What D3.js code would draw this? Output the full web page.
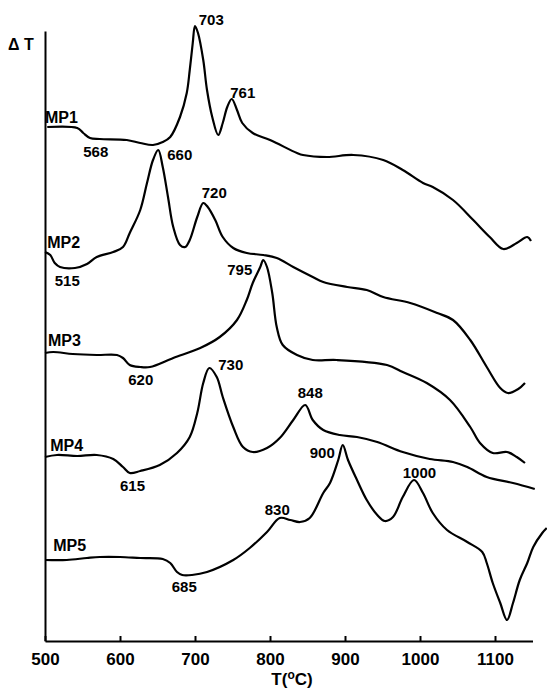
<!DOCTYPE html>
<html>
<head>
<meta charset="utf-8">
<script src="https://cdn.jsdelivr.net/npm/d3@7"></script>
<style>
  body { margin: 0; background: #fff; }
  svg { display: block; }
  .trace { fill: none; stroke: #000; stroke-width: 2.2; stroke-linejoin: round; }
  .axis path, .axis line { stroke: #000; stroke-width: 2; }
  .axis text { font-family: "Liberation Sans", Arial, sans-serif; font-weight: bold; font-size: 17px; fill: #000; }
  .lbl { font-family: "Liberation Sans", Arial, sans-serif; font-weight: bold; fill: #000; }
</style>
</head>
<body>
<div id="chart"></div>
<script>
const width = 547,
  height = 688,
  margin = { top: 31, bottom: 47, left: 45, right: 14.5 };

// DTA traces, [T (°C), ΔT (arb. units, stacked)]
const mp1 = [[503,514],[543,513],[551,508],[560,503],[573,502],[609,501],[627,498],[644,496],[657,499],[667,504],[680,524],[689,548],[693,571],[697,598],[700,615],[704,608],[711,581],[716,551],[723,524],[731,506],[737,518],[743,534],[749,542],[756,531],[763,518],[777,508],[800,501],[836,488],[844,486],[876,484],[911,486],[951,481],[977,471],[1004,458],[1017,454],[1044,441],[1071,421],[1093,404],[1111,392],[1129,398],[1143,404],[1148,400]];
const mp2 = [[500,389],[507,386],[513,378],[520,374],[540,373],[556,377],[569,384],[591,389],[604,394],[613,408],[627,431],[636,458],[644,481],[651,491],[657,474],[664,444],[671,414],[680,396],[687,394],[693,401],[703,424],[711,438],[717,434],[727,421],[737,404],[751,393],[769,388],[791,386],[809,383],[831,374],[857,364],[871,359],[903,354],[929,351],[951,344],[987,338],[1023,328],[1044,321],[1067,301],[1089,274],[1107,253],[1117,248],[1131,252],[1140,258]];
const mp3 = [[500,288],[511,289],[537,287],[569,286],[596,286],[604,283],[613,276],[627,274],[640,274],[671,283],[707,293],[733,304],[756,321],[769,341],[777,358],[787,374],[791,381],[796,374],[803,348],[809,314],[817,296],[836,286],[857,281],[889,281],[956,276],[977,269],[1009,258],[1040,241],[1067,214],[1080,198],[1097,188],[1116,189],[1129,184],[1140,178]];
const mp4 = [[500,184],[516,186],[543,185],[569,186],[591,182],[604,174],[613,168],[627,170],[653,176],[676,188],[693,204],[703,228],[711,258],[719,273],[729,264],[737,244],[751,214],[764,194],[777,189],[796,193],[813,203],[831,221],[847,236],[857,221],[871,211],[893,206],[916,204],[943,199],[977,189],[1013,182],[1044,179],[1063,174],[1089,164],[1124,158],[1153,152]];
const mp5 = [[500,81],[529,81],[556,83],[573,84],[600,84],[627,83],[657,82],[667,78],[676,69],[683,66],[696,66],[716,69],[751,81],[773,93],[796,109],[813,123],[827,121],[840,119],[853,123],[871,148],[880,158],[891,181],[897,196],[904,181],[916,161],[929,141],[943,126],[953,120],[964,124],[977,144],[992,161],[1004,148],[1017,128],[1036,111],[1063,99],[1083,89],[1089,78],[1097,58],[1107,38],[1116,21],[1124,38],[1133,61],[1143,78],[1151,94],[1163,108],[1169,113]];

const traces = [mp1, mp2, mp3, mp4, mp5];

// sample names, anchored at [T, ΔT]
const sampleNames = ["MP1", "MP2", "MP3", "MP4", "MP5"];
const sampleAnchors = [[500,518],[503,393],[504,295],[507,190],[511,90]];

// peak temperatures written on the traces, anchored at [T, ΔT]
const peakText = ["703","761","568","660","720","515","795","620","730","848","615","685","830","900","1000"];
const peakAnchors = [[705,616],[747,543],[551,484],[663,481],[709,443],[513,355],[743,366],[611,256],[731,271],[837,243],[600,150],[669,49],[793,126],[853,183],[977,163]];

const xTicks = [500, 600, 700, 800, 900, 1000, 1100];

const svg = d3.select("#chart")
  .append("svg")
  .attr("width", width)
  .attr("height", height);

const xScale = d3.scaleLinear()
  .domain([500, 1150])
  .range([margin.left, width - margin.right]);

const yScale = d3.scaleLinear()
  .domain([0, 610])
  .range([height - margin.bottom, margin.top]);

const lineFunc = d3.line()
  .x(d => xScale(d[0]))
  .y(d => yScale(d[1]))
  .curve(d3.curveCatmullRom.alpha(0.5));

svg.selectAll("path.trace")
  .data(traces)
  .join("path")
  .attr("class", "trace")
  .attr("d", d => lineFunc(d));

// axes
svg.append("g")
  .attr("class", "axis x-axis")
  .attr("transform", `translate(0,${height - margin.bottom})`)
  .call(d3.axisBottom(xScale)
    .tickValues(xTicks)
    .tickSizeInner(-5)
    .tickSizeOuter(0)
    .tickPadding(12)
    .tickFormat(d3.format("d")));

svg.append("g")
  .attr("class", "axis y-axis")
  .attr("transform", `translate(${margin.left},0)`)
  .call(d3.axisLeft(yScale).tickValues([]).tickSizeOuter(0));

// labels
svg.selectAll("text.sample")
  .data(sampleNames)
  .join("text")
  .attr("class", "lbl sample")
  .attr("font-size", 16)
  .attr("x", (d, i) => xScale(sampleAnchors[i][0]))
  .attr("y", (d, i) => yScale(sampleAnchors[i][1]))
  .text(d => d);

svg.selectAll("text.peak")
  .data(peakText)
  .join("text")
  .attr("class", "lbl peak")
  .attr("font-size", 15)
  .attr("x", (d, i) => xScale(peakAnchors[i][0]))
  .attr("y", (d, i) => yScale(peakAnchors[i][1]))
  .text(d => d);

svg.append("text")
  .attr("class", "lbl")
  .attr("font-size", 16)
  .attr("x", 8)
  .attr("y", 50)
  .text("\u0394 T");

const xLabel = svg.append("text")
  .attr("class", "lbl")
  .attr("font-size", 17)
  .attr("text-anchor", "middle")
  .attr("x", 292)
  .attr("y", 685)
  .text("T(");
xLabel.append("tspan").attr("font-size", 12).attr("dy", -6).text("o");
xLabel.append("tspan").attr("dy", 6).text("C)");
</script>
</body>
</html>
